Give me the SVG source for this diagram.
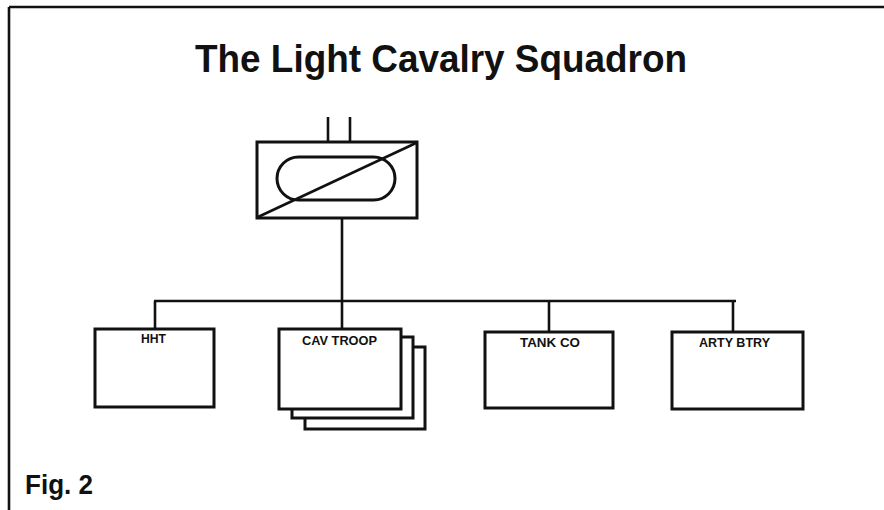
<svg xmlns="http://www.w3.org/2000/svg" width="884" height="510" viewBox="0 0 884 510">
<style>
.box{fill:#fff;stroke:#111;stroke-width:3}
.ln{fill:none;stroke:#111;stroke-width:2.6}
.lbl{font-family:"Liberation Sans",Arial,sans-serif;font-weight:bold;font-size:12px;fill:#111;text-anchor:middle}
.ttl{font-family:"Liberation Sans",Arial,sans-serif;font-weight:bold;fill:#111}
</style>
<rect width="884" height="510" fill="#fff"/>
<g id="frame">
<path d="M9 7 H884" class="ln" stroke-width="2.4"/>
<path d="M9 7 V510" class="ln" stroke-width="2"/>
</g>
<text class="ttl" x="441" y="72" font-size="39" text-anchor="middle" textLength="492" lengthAdjust="spacingAndGlyphs">The Light Cavalry Squadron</text>
<text class="ttl" x="25" y="494" font-size="28" textLength="68" lengthAdjust="spacingAndGlyphs">Fig. 2</text>
<g id="connectors">
<path class="ln" d="M328 117 V142 M350 117 V142"/>
<path class="ln" d="M342 218 V301"/>
<path class="ln" d="M154 301 H736"/>
<path class="ln" d="M155 301 V329 M342 301 V329 M549 301 V332 M733 301 V332"/>
</g>
<g id="squadron-hq">
<rect class="box" x="257" y="142" width="160" height="76"/>
<rect class="box" x="277" y="157" width="118" height="43" rx="21.5" fill="none"/>
<path class="ln" d="M258 217 L416 143" stroke-width="3"/>
</g>
<g id="hht">
<rect class="box" x="95" y="329" width="119" height="78"/>
<text class="lbl" x="153.5" y="343" textLength="25" lengthAdjust="spacingAndGlyphs">HHT</text>
</g>
<g id="cav-troop">
<rect class="box" x="305" y="347" width="120" height="82"/>
<rect class="box" x="292" y="337" width="121" height="81"/>
<rect class="box" x="279" y="329" width="122" height="80"/>
<text class="lbl" x="339.5" y="345" textLength="75" lengthAdjust="spacingAndGlyphs">CAV TROOP</text>
</g>
<g id="tank-co">
<rect class="box" x="485" y="332" width="128" height="76"/>
<text class="lbl" x="550" y="347" textLength="60" lengthAdjust="spacingAndGlyphs">TANK CO</text>
</g>
<g id="arty-btry">
<rect class="box" x="672" y="332" width="131" height="77"/>
<text class="lbl" x="734.5" y="347" textLength="71" lengthAdjust="spacingAndGlyphs">ARTY BTRY</text>
</g>
</svg>
